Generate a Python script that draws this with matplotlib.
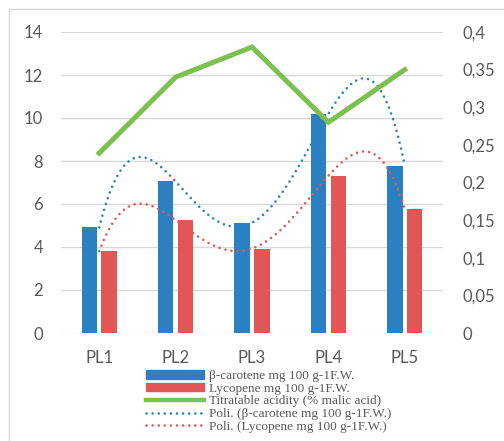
import numpy as np
import matplotlib
matplotlib.use("Agg")
import matplotlib.pyplot as plt
from matplotlib.lines import Line2D
from matplotlib.patches import Patch

# --- data ---
categories = ["PL1", "PL2", "PL3", "PL4", "PL5"]
beta_carotene = [4.91, 7.05, 5.13, 10.2, 7.78]
lycopene = [3.8, 5.25, 3.93, 7.32, 5.78]
acidity = [0.239, 0.340, 0.380, 0.280, 0.350]
left_ticks = [0, 2, 4, 6, 8, 10, 12, 14]
right_ticks = [0, 0.05, 0.1, 0.15, 0.2, 0.25, 0.3, 0.35, 0.4]

BLUE = "#2a80c1"
RED = "#e05756"
GREEN = "#7bc150"
GRID = "#d9d9d9"
TXT = "#595959"

fig = plt.figure(figsize=(5.04, 4.41), dpi=100)
ax = fig.add_axes([61 / 504, 1 - 333 / 441, 382 / 504, 301 / 441])

x = np.arange(len(categories))
w = 0.2
ax.bar(x - 0.13, beta_carotene, w, color=BLUE, zorder=2)
ax.bar(x + 0.13, lycopene, w, color=RED, zorder=2)

# polynomial trendlines (order 4)
xs = np.linspace(0, len(categories) - 1, 300)
for ys, c in [(beta_carotene, BLUE), (lycopene, RED)]:
    coef = np.polyfit(x, ys, 4)
    ax.plot(xs, np.polyval(coef, xs), color=c, lw=1.9,
            linestyle=(0, (0.01, 2.3)), dash_capstyle="round", zorder=3)

ax.set_xlim(-0.5, len(categories) - 0.5)
ax.set_ylim(0, 14)
ax.set_yticks(left_ticks)
ax.set_xticks(x)
ax.set_xticklabels(categories)
ax.grid(axis="y", color=GRID, lw=1, zorder=0)
ax.set_axisbelow(True)
for s in ax.spines.values():
    s.set_visible(False)
ax.tick_params(axis="y", length=0, pad=13, labelsize=12, labelcolor=TXT)
ax.tick_params(axis="x", length=0, pad=12, labelsize=12, labelcolor=TXT)
for t in ax.get_xticklabels() + ax.get_yticklabels():
    t.set_fontfamily("Lato")

ax2 = ax.twinx()
ax2.plot(x, acidity, color=GREEN, lw=3.6, solid_joinstyle="miter", zorder=4)
ax2.set_ylim(0, 0.4)
ax2.set_yticks(right_ticks)
ax2.set_yticklabels([("%g" % v).replace(".", ",") for v in right_ticks])
for s in ax2.spines.values():
    s.set_visible(False)
ax2.tick_params(axis="y", length=0, pad=14, labelsize=12, labelcolor=TXT)
for t in ax2.get_yticklabels():
    t.set_fontfamily("Lato")

# legend
handles = [
    Patch(color=BLUE),
    Patch(color=RED),
    Line2D([], [], color=GREEN, lw=3.2),
    Line2D([], [], color=BLUE, lw=1.9, linestyle=(0, (0.01, 2.3)), dash_capstyle="round"),
    Line2D([], [], color=RED, lw=1.9, linestyle=(0, (0.01, 2.3)), dash_capstyle="round"),
]
labels = [
    "β-carotene mg 100 g-1F.W.",
    "Lycopene mg 100 g-1F.W.",
    "Titratable acidity (% malic acid)",
    "Poli. (β-carotene mg 100 g-1F.W.)",
    "Poli. (Lycopene mg 100 g-1F.W.)",
]
leg = fig.legend(handles, labels, loc="upper left",
                 bbox_to_anchor=(146 / 504, 1 - 370 / 441),
                 frameon=False, borderpad=0, borderaxespad=0,
                 handlelength=4.4, handleheight=0.6, handletextpad=0.4,
                 labelspacing=0.05,
                 prop={"family": "Liberation Serif", "size": 9.5})
for t in leg.get_texts():
    t.set_color(TXT)

# chart frame (top and left edges visible)
fig.add_artist(Line2D([9 / 504, 9 / 504], [0, 1 - 9 / 441], color=GRID, lw=1))
fig.add_artist(Line2D([9 / 504, 1], [1 - 9 / 441, 1 - 9 / 441], color=GRID, lw=1))

fig.savefig("out.png", dpi=100)
